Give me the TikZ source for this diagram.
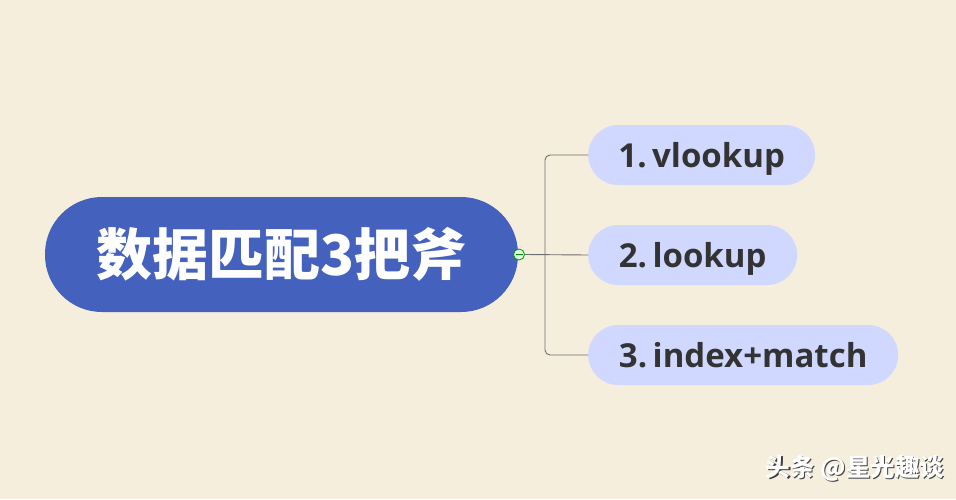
\documentclass[tikz,border=0pt]{standalone}
\usepackage{fontspec}
\setmainfont{Noto Sans CJK SC}
\newfontfamily\branchfont{Open Sans}
\usetikzlibrary{positioning,calc}
\definecolor{paper}{RGB}{245,238,220}
\definecolor{rootblue}{RGB}{67,97,189}
\definecolor{leaflav}{RGB}{208,216,255}
\definecolor{leaftext}{RGB}{51,51,51}
\definecolor{linegray}{RGB}{110,110,110}
\tikzstyle{root}=[fill=rootblue,text=white,rounded corners=57pt,minimum width=473pt,minimum height=115pt,inner sep=0pt,font=\fontsize{56}{60}\selectfont\bfseries]
\tikzstyle{leaf}=[fill=leaflav,text=leaftext,rounded corners=30pt,minimum height=60pt,inner sep=0pt,anchor=west,text height=29pt,text depth=4pt,font=\branchfont\fontsize{33}{36}\selectfont\bfseries]
\tikzstyle{conn}=[draw=linegray,line width=0.9pt,rounded corners=5pt]
\tikzstyle{wmtext}=[font=\fontsize{24.5}{26}\selectfont\bfseries]

\begin{document}
\begin{tikzpicture}[x=1pt,y=-1pt]
  \fill[paper] (0,0) rectangle (956,499);
  \useasboundingbox (0,0) rectangle (956,499);
  % centre topic
  \node [root] (topic) at (281.5,254.5) {数据匹配3把斧};
  \node [circle,draw=green!60!black,fill=white!90!green,minimum size=11pt,inner sep=0pt,line width=0.8pt] (fold) at (519,254.5) {};
  \draw[green!55!black,line width=0.8pt] ($(fold.center)+(-3.5,0)$) -- ($(fold.center)+(3.5,0)$);
  % branches
  \node [leaf,minimum width=227pt] (vl) at (588,155) {1.\,vlookup};
  \node [leaf,minimum width=209pt] (lk) at (588,255) {2.\,lookup};
  \node [leaf,minimum width=310pt] (im) at (588,355) {3.\,index+match};
  \coordinate (hub) at (545,254.5);
  \draw[conn] (fold.east) -- (lk.west);
  \draw[conn] (vl.west) -| (hub) |- (im.west);
  % watermark
  \node [wmtext,text=black!75] (wm-shadow) at (856.2,469.2) {头条 @星光趣谈};
  \node [wmtext,text=white] (wm) at (855,468) {头条 @星光趣谈};
\end{tikzpicture}
\end{document}
